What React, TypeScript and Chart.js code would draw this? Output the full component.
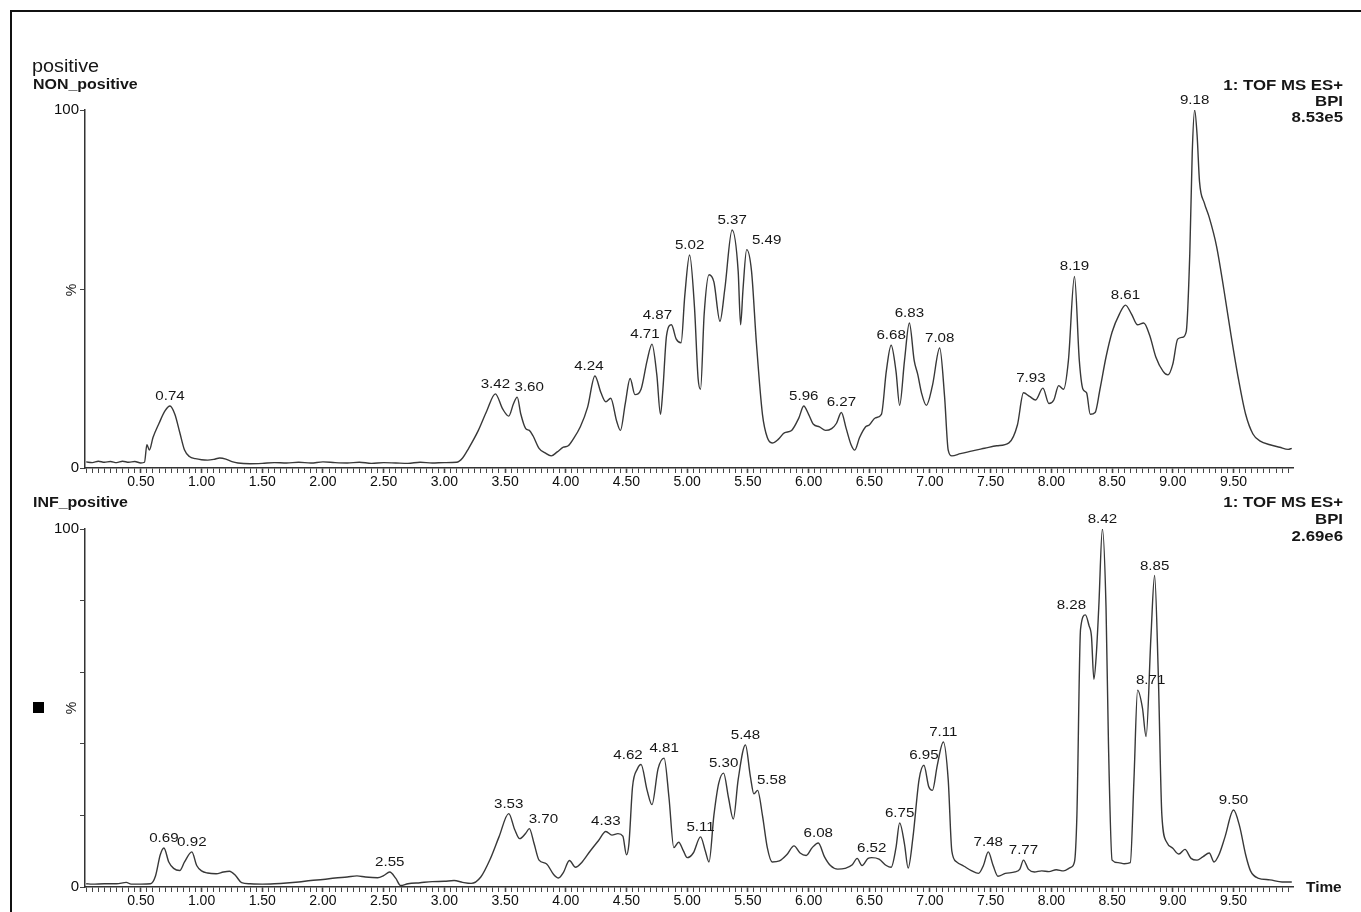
import React, { useEffect, useRef } from "react";
import { Chart, registerables } from "chart.js";

Chart.register(...registerables);

// ---------- DATA ----------
const nonTimes = [
  0.05, 0.1, 0.15, 0.2, 0.25, 0.3, 0.35, 0.4, 0.45, 0.5,
  0.53, 0.55, 0.57, 0.6, 0.65, 0.7, 0.74, 0.78, 0.82, 0.86,
  0.9, 0.95, 1.0, 1.05, 1.1, 1.15, 1.2, 1.25, 1.3, 1.4,
  1.5, 1.6, 1.7, 1.8, 1.9, 2.0, 2.1, 2.2, 2.3, 2.4,
  2.5, 2.6, 2.7, 2.8, 2.9, 3.0, 3.1, 3.15, 3.2, 3.28,
  3.35, 3.42, 3.48, 3.53, 3.57, 3.6, 3.63, 3.67, 3.7, 3.73,
  3.78, 3.83, 3.88, 3.93, 3.98, 4.02, 4.06, 4.12, 4.18, 4.24,
  4.29, 4.33, 4.37, 4.42, 4.45, 4.49, 4.53, 4.57, 4.62, 4.67,
  4.71, 4.75, 4.78, 4.8, 4.83, 4.87, 4.91, 4.95, 4.98, 5.02,
  5.06, 5.09, 5.11, 5.14, 5.18, 5.22, 5.27, 5.31, 5.37, 5.42,
  5.44, 5.46, 5.49, 5.53, 5.57, 5.62, 5.66, 5.7, 5.75, 5.8,
  5.86, 5.92, 5.96, 6.0, 6.04, 6.09, 6.14, 6.19, 6.23, 6.27,
  6.31, 6.35, 6.38, 6.42, 6.47, 6.5, 6.55, 6.6, 6.64, 6.68,
  6.72, 6.75, 6.79, 6.83, 6.87, 6.9, 6.93, 6.97, 7.02, 7.08,
  7.12, 7.15, 7.18, 7.25, 7.35, 7.45, 7.55, 7.65, 7.72, 7.77,
  7.82, 7.87, 7.93, 7.98, 8.02, 8.06, 8.1, 8.14, 8.19, 8.23,
  8.26, 8.29, 8.32, 8.36, 8.4, 8.45, 8.5, 8.56, 8.61, 8.66,
  8.71, 8.76, 8.81, 8.86, 8.92, 8.96, 9.0, 9.04, 9.08, 9.11,
  9.14, 9.16, 9.18, 9.2, 9.22, 9.26, 9.3, 9.36, 9.42, 9.48,
  9.54, 9.6, 9.66, 9.72, 9.8, 9.88, 9.95, 9.98,
];
const nonValues = [
  1.7, 1.5, 1.9, 1.6, 1.8, 1.5, 1.9, 1.6, 1.8, 1.4,
  1.6, 6.5, 5.0, 8.5, 12.5, 16, 17.3, 15, 10, 5,
  3.2, 2.6, 2.3, 2.2, 2.4, 2.8, 2.5, 1.8, 1.4, 1.2,
  1.3, 1.5, 1.4, 1.6, 1.4, 1.7, 1.5, 1.4, 1.6, 1.3,
  1.5, 1.4, 1.3, 1.6, 1.4, 1.5, 1.6, 2.8, 5.5, 10.5,
  16, 20.7, 16.5, 14.5, 18, 19.8, 15, 11, 10.5, 9.0,
  5.5, 4.2, 3.4, 4.5, 5.8, 6.2, 8.0, 11.5, 17, 25.7,
  21, 18.5, 19.5, 13, 10.5, 18, 25, 20.5, 22, 30,
  34.6, 26, 15, 22, 37, 40, 36, 35, 48, 59.5,
  45, 25, 22, 43, 54, 52, 41, 50, 66.5, 55,
  40, 50, 61, 55, 35, 15, 8.5, 7, 8, 9.8,
  10.5, 14, 17.3, 15, 12.2, 11.5, 10.5, 11, 12.5, 15.5,
  11, 6.5, 5.0, 8.5, 11.5, 12, 14, 15, 27, 34.3,
  27, 17.5, 30, 40.5, 30, 26, 21, 17.5, 23, 33.5,
  20, 5, 3.4, 4, 4.8, 5.5, 6.2, 7.0, 12, 21,
  20, 19, 22.3, 18, 19, 23, 22, 30, 53.5, 30,
  22, 21, 15, 15.5, 22, 31, 38, 43, 45.5, 43,
  40, 40.5, 37, 31, 27, 26, 29, 36, 36.5, 38,
  60, 88, 100, 93, 80, 74, 70, 62, 50, 37,
  25, 15, 9.5, 7.5, 6.5, 5.8, 5.2, 5.5,
];

const infTimes = [
  0.05, 0.1, 0.2, 0.3, 0.38, 0.42, 0.5, 0.58, 0.62, 0.66,
  0.69, 0.73, 0.77, 0.82, 0.86, 0.92, 0.96, 1.0, 1.05, 1.12,
  1.18, 1.23, 1.28, 1.33, 1.4, 1.5, 1.6, 1.7, 1.8, 1.9,
  2.0, 2.1, 2.2, 2.28, 2.35, 2.45, 2.5, 2.55, 2.6, 2.64,
  2.7, 2.8, 2.9, 3.0, 3.08, 3.15, 3.22, 3.3, 3.38, 3.45,
  3.53, 3.58, 3.62, 3.67, 3.7, 3.74, 3.78, 3.84, 3.9, 3.94,
  3.98, 4.03, 4.08, 4.13, 4.2, 4.27, 4.33, 4.38, 4.43, 4.47,
  4.5, 4.52, 4.55, 4.59, 4.62, 4.67, 4.71, 4.76, 4.81, 4.85,
  4.89, 4.93, 4.97, 5.0, 5.05, 5.11, 5.15, 5.18, 5.22, 5.26,
  5.3, 5.34, 5.38, 5.42, 5.48, 5.52, 5.55, 5.58, 5.62, 5.66,
  5.7, 5.76, 5.82, 5.88, 5.93, 5.98, 6.03, 6.08, 6.13, 6.18,
  6.24, 6.3, 6.36, 6.4, 6.44, 6.49, 6.52, 6.58, 6.64, 6.68,
  6.72, 6.75, 6.79, 6.82, 6.86, 6.91, 6.95, 6.99, 7.02, 7.06,
  7.11, 7.15, 7.18, 7.22, 7.28, 7.34, 7.4, 7.44, 7.48, 7.52,
  7.56, 7.62, 7.7, 7.74, 7.77, 7.81, 7.86, 7.92, 7.98, 8.04,
  8.1, 8.16, 8.19, 8.21, 8.24, 8.28, 8.31, 8.33, 8.35, 8.37,
  8.39, 8.42, 8.45, 8.47, 8.5, 8.55, 8.6, 8.65, 8.68, 8.71,
  8.75, 8.78, 8.82, 8.85, 8.88, 8.91, 8.95, 9.0, 9.05, 9.1,
  9.15, 9.2, 9.25, 9.3, 9.34, 9.38, 9.43, 9.5, 9.55, 9.6,
  9.64, 9.7, 9.8, 9.9, 9.98,
];
const infValues = [
  0.9, 0.8, 0.9, 0.9, 1.3, 0.8, 0.8, 0.9, 3, 9,
  10.9, 7, 5.2, 4.6, 7, 9.8, 6, 4.5, 3.9, 3.7,
  4.2, 4.4, 3.2, 1.2, 0.9, 0.8, 0.9, 1.1, 1.4, 1.8,
  2.1, 2.5, 2.8, 3.1, 2.8, 2.6, 3.2, 4.2, 2.4, 0.4,
  0.9, 1.2, 1.5, 1.6, 1.8, 1.3, 1.0, 2.8, 8, 14,
  20.5, 16, 13.5, 15, 16.3, 12, 7.5, 6.5, 3.5, 2.5,
  4, 7.4, 5.5, 6.8, 10, 13, 15.5, 14.5, 14.9, 14.2,
  9, 12, 28, 33, 34.2, 27, 23, 33, 36, 25,
  11, 12.5, 10, 8.2, 9.5, 14, 10, 7, 20, 29,
  31.8, 25, 19, 30, 39.7, 31, 26, 27, 20, 11,
  7, 7.3, 9, 11.5, 9.5, 8.8, 11, 12.3, 8.5, 6.0,
  5.0, 5.2, 6.2, 8, 6, 8, 8.2, 7.8, 6, 5.5,
  11, 17.9, 12, 5.3, 14, 30, 34, 28, 27, 34,
  40.5, 30, 10, 7, 5.8, 4.6, 3.8, 6, 9.8, 6,
  3, 3.8, 4.2, 5, 7.5, 5, 4.2, 4.5, 4.3, 4.8,
  4.5, 5.5, 7, 20, 72, 76, 73, 70, 58, 65,
  78, 100, 78, 40, 7.5, 6.8, 6.5, 6.8, 30, 55,
  50, 42, 70, 87, 60, 20, 12.5, 10.8, 9.2, 10.5,
  8, 7.5, 8.5, 9.5, 7, 9, 14, 21.5, 17, 9,
  4.5, 2.5, 2.0, 1.4, 1.4,
];

const nonPeakLabels = [
  "0.74", "3.42", "3.60", "4.24", "4.71", "4.87", "5.02", "5.37", "5.49",
  "5.96", "6.27", "6.68", "6.83", "7.08", "7.93", "8.19", "8.61", "9.18",
];
const infPeakLabels = [
  "0.69", "0.92", "2.55", "3.53", "3.70", "4.33", "4.62", "4.81", "5.11",
  "5.30", "5.48", "5.58", "6.08", "6.52", "6.75", "6.95", "7.11", "7.48",
  "7.77", "8.28", "8.42", "8.71", "8.85", "9.50",
];

const xTickLabels = [
  "0.50", "1.00", "1.50", "2.00", "2.50", "3.00", "3.50", "4.00", "4.50",
  "5.00", "5.50", "6.00", "6.50", "7.00", "7.50", "8.00", "8.50", "9.00", "9.50",
];
const yTickLabels = ["0", "100"];
const nonYTicks = [0, 50, 100];
const infYTicks = [0, 20, 40, 60, 80, 100];

// ---------- STYLE ----------
const FONT = "'Liberation Sans', Arial, sans-serif";
const INK = "#161616";
const nonLabelShift: Record<string, number> = { "3.60": 12, "4.87": -14, "5.49": 20, "4.71": -7, "4.24": -6, "7.93": -12 };
const infLabelShift: Record<string, number> = { "3.70": 14, "4.62": -13, "5.58": 14, "8.28": -14, "8.71": 13 };

type TextSpec = { text: string; x: number; y: number; font: string; align: CanvasTextAlign; sx: number; rot?: boolean };

function drawText(ctx: CanvasRenderingContext2D, t: TextSpec) {
  ctx.save();
  ctx.font = t.font;
  ctx.fillStyle = INK;
  ctx.textAlign = t.align;
  ctx.textBaseline = "middle";
  ctx.translate(t.x, t.y);
  if (t.rot) ctx.rotate(-Math.PI / 2);
  ctx.scale(t.sx, 1);
  ctx.fillText(t.text, 0, 0);
  ctx.restore();
}

type PanelCfg = {
  times: number[];
  values: number[];
  peaks: string[];
  shifts: Record<string, number>;
  padTop: number;
  padBottom: number;
  yTicks: number[];
  texts: TextSpec[];
  square?: boolean;
};

function buildChart(canvas: HTMLCanvasElement, cfg: PanelCfg) {
  const data = cfg.times.map((t, i) => ({ x: t, y: cfg.values[i] }));
  const plugin = {
    id: "panelDecor",
    afterDraw(chart: any) {
      const ctx: CanvasRenderingContext2D = chart.ctx;
      const xs = chart.scales.x;
      const ys = chart.scales.y;
      cfg.peaks.forEach((lab) => {
        const t = parseFloat(lab);
        let v = -Infinity;
        cfg.times.forEach((tt, i) => {
          if (Math.abs(tt - t) <= 0.025) v = Math.max(v, cfg.values[i]);
        });
        const px = xs.getPixelForValue(t) + (cfg.shifts[lab] || 0);
        const py = ys.getPixelForValue(v) - 3;
        ctx.save();
        ctx.font = `13.5px ${FONT}`;
        ctx.fillStyle = INK;
        ctx.textAlign = "center";
        ctx.textBaseline = "bottom";
        ctx.translate(px, py);
        ctx.scale(1.12, 1);
        ctx.fillText(lab, 0, 0);
        ctx.restore();
      });
      cfg.texts.forEach((t) => drawText(ctx, t));
      if (cfg.square) {
        ctx.save();
        ctx.fillStyle = "#000";
        ctx.fillRect(33, 702, 11, 11);
        ctx.restore();
      }
    },
  };

  return new Chart(canvas, {
    type: "line",
    data: {
      datasets: [
        {
          data,
          borderColor: "#383838",
          borderWidth: 1.4,
          pointRadius: 0,
          fill: false,
          cubicInterpolationMode: "monotone",
        },
      ],
    },
    options: {
      responsive: false,
      animation: false,
      events: [],
      layout: { padding: { left: 0, right: 68, top: cfg.padTop, bottom: cfg.padBottom } },
      plugins: { legend: { display: false }, tooltip: { enabled: false } },
      scales: {
        x: {
          type: "linear",
          min: 0.04,
          max: 9.99,
          afterBuildTicks: (axis: any) => {
            const arr: { value: number }[] = [];
            for (let i = 1; i < 200; i++) arr.push({ value: i / 20 });
            axis.ticks = arr;
          },
          afterFit: (axis: any) => {
            axis.height = 24;
          },
          border: { display: true, color: "#333", width: 1.5 },
          grid: {
            display: true,
            drawOnChartArea: false,
            drawTicks: true,
            tickLength: 5,
            tickColor: "#444",
            tickWidth: (ctx: any) => {
              const v = ctx.tick ? ctx.tick.value : 0;
              return Math.abs(v * 2 - Math.round(v * 2)) < 1e-6 ? 1.6 : 1;
            },
          },
          ticks: {
            autoSkip: false,
            maxRotation: 0,
            minRotation: 0,
            padding: 1,
            color: "#0d0d0d",
            font: { family: FONT, size: 14 },
            callback: (value: any) => {
              const s = Number(value).toFixed(2);
              return xTickLabels.includes(s) ? s : "";
            },
          },
        },
        y: {
          min: 0,
          max: 100,
          afterBuildTicks: (axis: any) => {
            axis.ticks = cfg.yTicks.map((v) => ({ value: v }));
          },
          afterFit: (axis: any) => {
            axis.width = 85;
          },
          border: { display: true, color: "#333", width: 1.5 },
          grid: {
            display: true,
            drawOnChartArea: false,
            drawTicks: true,
            tickLength: 5,
            tickColor: "#444",
          },
          ticks: {
            padding: 1,
            color: "#0d0d0d",
            font: { family: FONT, size: 15 },
            callback: (value: any) => {
              const s = String(Math.round(Number(value)));
              return yTickLabels.includes(s) ? s : "";
            },
          },
        },
      },
    },
    plugins: [plugin],
  } as any);
}

export default function App() {
  const topRef = useRef<HTMLCanvasElement>(null);
  const botRef = useRef<HTMLCanvasElement>(null);

  useEffect(() => {
    const boldRight = `bold 14px ${FONT}`;
    const c1 = buildChart(topRef.current as HTMLCanvasElement, {
      times: nonTimes,
      values: nonValues,
      peaks: nonPeakLabels,
      shifts: nonLabelShift,
      padTop: 110,
      padBottom: 420,
      yTicks: nonYTicks,
      texts: [
        { text: "positive", x: 32, y: 67, font: `18px ${FONT}`, align: "left", sx: 1.1 },
        { text: "NON_positive", x: 33, y: 85, font: `bold 14px ${FONT}`, align: "left", sx: 1.14 },
        { text: "1: TOF MS ES+", x: 1343, y: 86, font: boldRight, align: "right", sx: 1.2 },
        { text: "BPI", x: 1343, y: 102, font: boldRight, align: "right", sx: 1.2 },
        { text: "8.53e5", x: 1343, y: 118, font: boldRight, align: "right", sx: 1.2 },
        { text: "%", x: 72, y: 290, font: `14px ${FONT}`, align: "center", sx: 1, rot: true },
      ],
    });
    const c2 = buildChart(botRef.current as HTMLCanvasElement, {
      times: infTimes,
      values: infValues,
      peaks: infPeakLabels,
      shifts: infLabelShift,
      padTop: 529,
      padBottom: 1,
      yTicks: infYTicks,
      square: true,
      texts: [
        { text: "INF_positive", x: 33, y: 503, font: `bold 14px ${FONT}`, align: "left", sx: 1.14 },
        { text: "1: TOF MS ES+", x: 1343, y: 503, font: boldRight, align: "right", sx: 1.2 },
        { text: "BPI", x: 1343, y: 520, font: boldRight, align: "right", sx: 1.2 },
        { text: "2.69e6", x: 1343, y: 537, font: boldRight, align: "right", sx: 1.2 },
        { text: "%", x: 72, y: 708, font: `14px ${FONT}`, align: "center", sx: 1, rot: true },
        { text: "Time", x: 1306, y: 888, font: `bold 14px ${FONT}`, align: "left", sx: 1.1 },
      ],
    });
    return () => {
      c1.destroy();
      c2.destroy();
    };
  }, []);

  return (
    <div style={{ position: "absolute", left: 0, top: 0, width: 1361, height: 912, background: "#fff", overflow: "hidden" }}>
      <div
        style={{
          position: "absolute",
          left: 10,
          top: 10,
          right: 0,
          bottom: 0,
          borderLeft: "2px solid #111",
          borderTop: "2px solid #111",
        }}
      />
      <canvas ref={topRef} width={1361} height={912} style={{ position: "absolute", left: 0, top: 0 }} />
      <canvas ref={botRef} width={1361} height={912} style={{ position: "absolute", left: 0, top: 0 }} />
    </div>
  );
}
